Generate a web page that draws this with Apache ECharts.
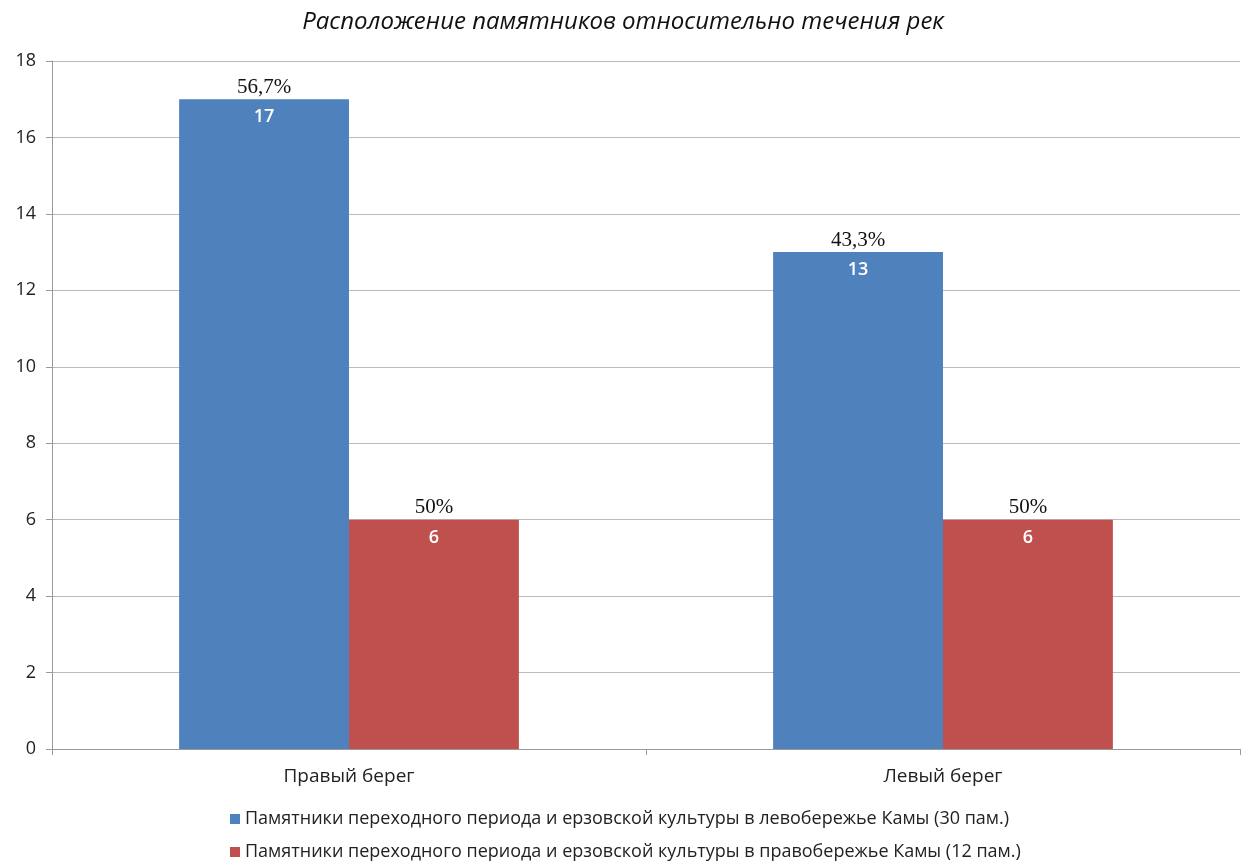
<!DOCTYPE html>
<html><head><meta charset="utf-8">
<script src="https://cdn.jsdelivr.net/npm/echarts@6/dist/echarts.min.js"></script>
<style>html,body{margin:0;padding:0;background:#fff}#c{width:1246px;height:864px}</style>
</head><body><div id="c"></div>
<script>
const categories = ['Правый берег', 'Левый берег'];
const seriesNames = [
  'Памятники переходного периода и ерзовской культуры в левобережье Камы (30 пам.)',
  'Памятники переходного периода и ерзовской культуры в правобережье Камы (12 пам.)'
];
const leftBankValues = [17, 13];
const rightBankValues = [6, 6];
const leftBankPercents = ['56,7%', '43,3%'];
const rightBankPercents = ['50%', '50%'];
const yTicks = { min: 0, max: 18, interval: 2 };

const chart = echarts.init(document.getElementById('c'));
function mkLabel(perc) {
  return {
    show: true, position: 'insideTop', distance: 5, offset: [0, -29],
    formatter: p => '{p|' + perc[p.dataIndex] + '}\n{v|' + p.value + '}',
    rich: {
      p: { fontFamily: 'Liberation Serif', fontSize: 21, color: '#111', lineHeight: 24, align: 'center' },
      v: { fontFamily: 'Open Sans', fontWeight: 600, fontSize: 18, color: '#fff', lineHeight: 36, align: 'center' }
    }
  };
}
chart.setOption({
  animation: false,
  title: {
    text: 'Расположение памятников относительно течения рек',
    left: 'center', top: 5,
    textStyle: { fontFamily: 'Open Sans', fontStyle: 'italic', fontWeight: 'normal', fontSize: 24, color: '#111' }
  },
  grid: { left: 52, right: 6, top: 61, bottom: 115 },
  legend: {
    orient: 'vertical', left: 230, top: 810, height: 60, itemGap: 15, itemWidth: 10, itemHeight: 10,
    icon: 'rect', padding: 0,
    textStyle: { fontFamily: 'Open Sans', fontSize: 18, color: '#222' }
  },
  xAxis: {
    type: 'category', data: categories,
    axisLine: { lineStyle: { color: '#999' } },
    axisTick: { show: true, length: 6, lineStyle: { color: '#999' } },
    axisLabel: { fontFamily: 'Open Sans', fontSize: 19, color: '#222', margin: 18 }
  },
  yAxis: {
    type: 'value', min: yTicks.min, max: yTicks.max, interval: yTicks.interval,
    axisLine: { show: true, lineStyle: { color: '#999' } },
    axisTick: { show: true, length: 6, lineStyle: { color: '#999' } },
    axisLabel: { fontFamily: 'Open Sans', fontSize: 18, color: '#222', margin: 16 },
    splitLine: { lineStyle: { color: '#bbb' } }
  },
  series: [
    { name: seriesNames[0], type: 'bar', data: leftBankValues, barGap: '0%', barCategoryGap: '42.8%',
      itemStyle: { color: '#4F81BD' }, label: mkLabel(leftBankPercents) },
    { name: seriesNames[1], type: 'bar', data: rightBankValues, barGap: '0%', barCategoryGap: '42.8%',
      itemStyle: { color: '#C0504D' }, label: mkLabel(rightBankPercents) }
  ]
});
</script></body></html>
